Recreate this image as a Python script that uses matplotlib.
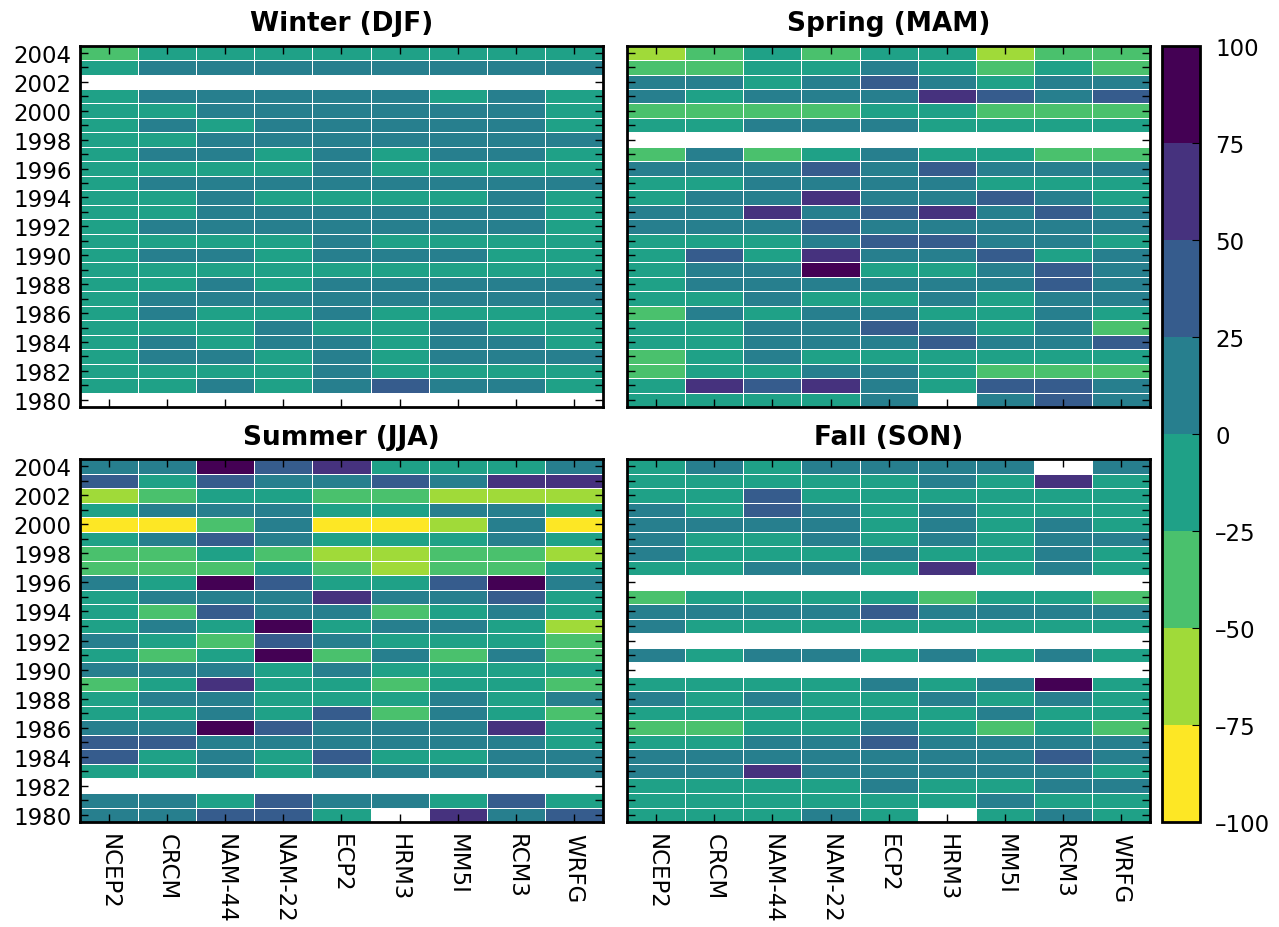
import numpy as np
import matplotlib
matplotlib.use('Agg')
import matplotlib.pyplot as plt

nan = np.nan

# models (columns) and years (rows, listed from 2004 down to 1980)
models = ['NCEP2', 'CRCM', 'NAM-44', 'NAM-22', 'ECP2', 'HRM3', 'MM5I', 'RCM3', 'WRFG']
years = list(range(2004, 1979, -1))
seasons = ['Winter (DJF)', 'Spring (MAM)', 'Summer (JJA)', 'Fall (SON)']
cbar_ticks = [-100, -75, -50, -25, 0, 25, 50, 75, 100]

# percent anomalies, one row per year (2004 first)
winter = [
    [-38, -12, -12, -12, -12, -12, -12, -12, -12],
    [-12, 12, 12, 12, 12, 12, 12, 12, 12],
    [nan, nan, nan, nan, nan, nan, nan, nan, nan],
    [-12, 12, 12, 12, 12, 12, -12, 12, -12],
    [-12, -12, 12, 12, 12, 12, 12, 12, -12],
    [-12, 12, -12, 12, 12, 12, 12, 12, -12],
    [-12, -12, 12, 12, 12, 12, 12, 12, 12],
    [-12, 12, 12, -12, 12, -12, 12, 12, -12],
    [-12, -12, -12, -12, 12, -12, -12, -12, -12],
    [-12, 12, 12, 12, 12, 12, 12, 12, 12],
    [-12, -12, 12, -12, -12, -12, -12, 12, -12],
    [-12, -12, 12, 12, 12, 12, 12, 12, -12],
    [-12, 12, 12, 12, 12, 12, 12, 12, -12],
    [-12, -12, -12, -12, 12, -12, -12, -12, -12],
    [-12, 12, 12, -12, 12, 12, 12, -12, -12],
    [-12, -12, -12, -12, -12, -12, -12, -12, -12],
    [-12, -12, 12, -12, 12, 12, 12, 12, 12],
    [-12, 12, 12, 12, 12, 12, 12, 12, 12],
    [-12, 12, -12, -12, 12, -12, -12, -12, -12],
    [-12, -12, -12, 12, -12, -12, 12, -12, -12],
    [-12, 12, -12, 12, 12, -12, 12, 12, -12],
    [-12, 12, 12, -12, 12, -12, 12, 12, 12],
    [-12, -12, -12, -12, 12, -12, -12, -12, -12],
    [-12, -12, 12, -12, 12, 38, 12, 12, -12],
    [nan, nan, nan, nan, nan, nan, nan, nan, nan],
]

spring = [
    [-62, -38, -12, -38, -12, -12, -62, -38, -38],
    [-38, -38, -12, -12, 12, -12, -38, -12, -38],
    [12, 12, -12, 12, 38, 12, -12, 12, 12],
    [12, -12, 12, 12, 12, 62, 38, 12, 38],
    [-38, -38, -38, -38, -12, -12, -38, -38, -38],
    [-12, -12, 12, 12, 12, -12, -12, -12, -12],
    [nan, nan, nan, nan, nan, nan, nan, nan, nan],
    [-38, 12, -38, -12, 12, -12, -12, -38, -38],
    [12, 12, 12, 38, 12, 38, 12, 12, 12],
    [-12, -12, 12, 12, 12, 12, -12, -12, -12],
    [-12, 12, 12, 62, 12, 12, 38, 12, -12],
    [12, 12, 62, 12, 38, 62, 12, 38, 12],
    [12, 12, 12, 38, 12, 12, 12, 12, 12],
    [-12, -12, -12, 12, 38, 38, 12, 12, -12],
    [-12, 38, -12, 62, 12, 12, 38, -12, 12],
    [-12, 12, 12, 88, -12, -12, 12, 38, 12],
    [-12, 12, 12, 12, 12, 12, 12, 38, 12],
    [-12, -12, 12, -12, -12, 12, -12, 12, 12],
    [-38, 12, -12, 12, 12, -12, -12, 12, -12],
    [-12, -12, 12, 12, 38, 12, -12, 12, -38],
    [-12, -12, 12, 12, 12, 38, 12, 12, 38],
    [-38, -12, 12, -12, -12, -12, -12, -12, -12],
    [-38, -12, -12, 12, 12, -12, -38, -38, -38],
    [-12, 62, 38, 62, 12, -12, 38, 38, 12],
    [-12, -12, -12, -12, 12, nan, 12, 38, 12],
]

summer = [
    [12, 12, 88, 38, 62, -12, -12, -12, 12],
    [38, -12, 38, 12, 12, 38, 12, 62, 62],
    [-62, -38, -12, -12, -38, -38, -62, -62, -62],
    [-12, 12, 12, 12, -12, -12, 12, 12, -12],
    [-88, -88, -38, 12, -88, -88, -62, 12, -88],
    [-12, 12, 38, 12, -12, -12, -12, 12, -12],
    [-38, -38, -12, -38, -62, -62, -38, -38, -62],
    [-38, -38, -38, -12, -38, -62, -38, -38, -12],
    [12, -12, 88, 38, -12, -12, 38, 88, 12],
    [-12, 12, 12, 12, 62, 12, 12, 38, -12],
    [-12, -38, 38, 12, 12, -38, -12, 12, -12],
    [-12, 12, -12, 88, -12, 12, 12, -12, -62],
    [12, -12, -38, 38, 12, -12, -12, -12, -38],
    [-12, -38, -12, 88, -38, 12, -38, 12, -38],
    [12, 12, 12, -12, 12, -12, -12, -12, -12],
    [-38, -12, 62, -12, -12, -38, -12, -12, -38],
    [-12, 12, 12, -12, -12, -12, 12, -12, 12],
    [-12, -12, 12, -12, 38, -38, 12, -12, -38],
    [12, 12, 88, 38, 12, 12, 12, 62, -12],
    [38, 38, 12, 12, 12, 12, 12, 12, -12],
    [38, -12, 12, -12, 38, -12, -12, 12, 12],
    [-12, -12, 12, -12, 12, 12, 12, 12, 12],
    [nan, nan, nan, nan, nan, nan, nan, nan, nan],
    [12, 12, -12, 38, 12, 12, -12, 38, -12],
    [12, 12, 38, 38, -12, nan, 62, 12, 38],
]

fall = [
    [-12, 12, -12, 12, 12, 12, 12, nan, 12],
    [-12, -12, -12, -12, -12, 12, -12, 62, -12],
    [-12, -12, 38, -12, -12, -12, -12, -12, -12],
    [12, -12, 38, 12, -12, 12, -12, -12, -12],
    [12, 12, 12, 12, -12, 12, -12, 12, -12],
    [12, -12, -12, 12, -12, 12, -12, 12, 12],
    [12, -12, -12, -12, 12, -12, -12, 12, -12],
    [-12, -12, 12, 12, -12, 62, -12, 12, -12],
    [nan, nan, nan, nan, nan, nan, nan, nan, nan],
    [-38, -12, -12, -12, -12, -38, -12, -12, -38],
    [12, 12, 12, 12, 38, 12, 12, 12, 12],
    [12, -12, -12, -12, -12, -12, -12, -12, -12],
    [nan, nan, nan, nan, nan, nan, nan, nan, nan],
    [12, -12, 12, 12, -12, 12, -12, 12, -12],
    [nan, nan, nan, nan, nan, nan, nan, nan, nan],
    [-12, -12, -12, -12, 12, -12, 12, 88, -12],
    [12, -12, 12, -12, -12, 12, -12, 12, -12],
    [-12, -12, -12, -12, -12, -12, 12, -12, -12],
    [-38, -38, -12, -12, 12, -12, -38, -12, -38],
    [-12, -12, 12, 12, 38, 12, 12, 12, 12],
    [12, 12, 12, 12, 12, 12, 12, 38, 12],
    [12, 12, 62, 12, 12, 12, 12, 12, -12],
    [-12, -12, -12, -12, 12, -12, -12, 12, 12],
    [-12, -12, -12, -12, -12, -12, 12, -12, -12],
    [-12, -12, -12, 12, -12, nan, -12, 12, -12],
]

data = [winter, spring, summer, fall]

cmap = plt.get_cmap('viridis_r', 8)
x_edges = np.arange(len(models) + 1)
y_edges = np.append(np.array(years) + 0.5, years[-1] - 0.5)

fig = plt.figure(figsize=(12.79, 9.28), dpi=100)

# panel positions [left, bottom, width, height]
positions = [
    [0.0625, 0.5603, 0.409, 0.3894],
    [0.4903, 0.5603, 0.409, 0.3894],
    [0.0625, 0.1131, 0.409, 0.3912],
    [0.4903, 0.1131, 0.409, 0.3912],
]

for i, (title, vals) in enumerate(zip(seasons, data)):
    ax = fig.add_axes(positions[i])
    arr = np.ma.masked_invalid(np.array(vals, dtype=float))
    mesh = ax.pcolormesh(x_edges, y_edges, arr, cmap=cmap, vmin=-100, vmax=100,
                         edgecolors='white', linewidth=0.5)
    ax.set_xlim(0, len(models))
    ax.set_ylim(years[-1] - 0.5, years[0] + 0.5)
    ax.set_title(title, fontsize=19, fontweight='bold', pad=11)

    ax.set_xticks(np.arange(len(models)) + 0.5)
    ax.set_yticks(years)
    ax.tick_params(direction='in', length=5.5, width=1, top=True, right=True,
                   labelsize=16.5)
    ax.tick_params(axis='x', pad=8)
    ax.tick_params(axis='y', pad=6)
    if i >= 2:
        ax.set_xticklabels(models, rotation=270)
    else:
        ax.set_xticklabels([])
    if i % 2 == 0:
        ax.set_yticklabels([str(y) if y % 2 == 0 else '' for y in years])
    else:
        ax.set_yticklabels([])
    for s in ax.spines.values():
        s.set_linewidth(2)

cax = fig.add_axes([0.9085, 0.1131, 0.0297, 0.8366])
cb = fig.colorbar(mesh, cax=cax, ticks=cbar_ticks)
cb.set_ticklabels([str(t).replace('-', '\u2013') for t in cbar_ticks])
cb.outline.set_linewidth(2)
cax.tick_params(direction='in', length=5.5, labelsize=16.5, pad=11)

fig.savefig('out.png', dpi=100)
